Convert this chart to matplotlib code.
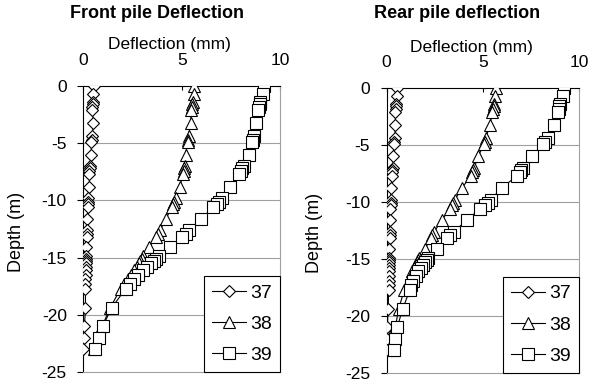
import matplotlib
matplotlib.use("Agg")
import matplotlib.pyplot as plt

plt.rcParams['font.family'] = ['Liberation Sans', 'DejaVu Sans']

depth = [0, -0.7, -1.4, -1.6, -1.8, -2.1, -3.2, -4.4, -4.7, -4.9, -6.0, -7.0, -7.2,
         -7.4, -7.7, -8.8, -9.8, -10.1, -10.3, -10.6, -11.6, -12.6, -12.9, -13.2,
         -14.1, -14.9, -15.1, -15.3, -15.5, -15.8, -16.1, -16.5, -16.9, -17.3,
         -17.7, -19.4, -21.0, -22.0, -23.0]

front_37 = [0.55, 0.5, 0.5, 0.5, 0.45, 0.45, 0.5, 0.45, 0.45, 0.4, 0.4, 0.35, 0.35,
            0.3, 0.3, 0.3, 0.25, 0.25, 0.25, 0.25, 0.2, 0.2, 0.2, 0.2, 0.15, 0.15,
            0.15, 0.15, 0.15, 0.15, 0.15, 0.15, 0.1, 0.1, 0.1, 0.1, 0.05, 0.05, 0.0]
front_38 = [5.62, 5.6, 5.55, 5.52, 5.5, 5.48, 5.45, 5.35, 5.32, 5.3, 5.2, 5.15, 5.12,
            5.1, 5.07, 4.9, 4.7, 4.62, 4.57, 4.5, 4.2, 3.9, 3.8, 3.7, 3.35, 3.05,
            2.98, 2.9, 2.82, 2.7, 2.58, 2.42, 2.25, 2.08, 1.9, 1.35, 0.95, 0.75, 0.55]
front_39 = [9.19, 9.12, 9.0, 8.97, 8.93, 8.88, 8.8, 8.7, 8.65, 8.6, 8.4, 8.15, 8.08,
            8.0, 7.9, 7.45, 7.05, 6.9, 6.8, 6.6, 6.0, 5.35, 5.2, 5.0, 4.4, 3.85,
            3.7, 3.57, 3.45, 3.25, 3.05, 2.8, 2.55, 2.35, 2.15, 1.43, 0.98, 0.79, 0.59]

rear_37 = [0.55, 0.52, 0.5, 0.5, 0.48, 0.45, 0.45, 0.42, 0.4, 0.4, 0.35, 0.32, 0.3,
           0.3, 0.28, 0.25, 0.2, 0.2, 0.2, 0.18, 0.18, 0.15, 0.15, 0.15, 0.12, 0.12,
           0.12, 0.12, 0.12, 0.12, 0.12, 0.1, 0.1, 0.1, 0.1, 0.08, 0.03, 0.02, 0.0]
rear_38 = [5.68, 5.64, 5.58, 5.56, 5.54, 5.5, 5.37, 5.15, 5.1, 5.06, 4.76, 4.55, 4.5,
           4.45, 4.38, 3.9, 3.55, 3.45, 3.4, 3.3, 2.86, 2.48, 2.38, 2.3, 2.0, 1.7,
           1.62, 1.56, 1.5, 1.42, 1.34, 1.25, 1.15, 1.05, 0.92, 0.62, 0.45, 0.38, 0.32]
rear_39 = [9.22, 9.15, 9.02, 8.98, 8.94, 8.9, 8.7, 8.4, 8.25, 8.14, 7.58, 7.1, 7.0,
           6.93, 6.76, 5.98, 5.4, 5.28, 5.1, 4.85, 4.16, 3.5, 3.3, 3.12, 2.6, 2.16,
           2.08, 2.0, 1.9, 1.78, 1.64, 1.5, 1.38, 1.28, 1.21, 0.83, 0.55, 0.43, 0.38]

series_labels = ["37", "38", "39"]
markers = ["D", "^", "s"]
msizes = [6.3, 8, 8]
titles = ["Front pile Deflection", "Rear pile deflection"]
xlabel = "Deflection (mm)"
ylabel = "Depth (m)"
xticks = [0, 5, 10]
yticks = [0, -5, -10, -15, -20, -25]

W, H = 590, 382
fig = plt.figure(figsize=(W / 100, H / 100), dpi=100)
ax_rects = [[0.1415, 0.026, 0.333, 0.749], [0.6554, 0.0243, 0.326, 0.745]]
title_x = [157.5 / W, 456.7 / W]
xlabel_x = [0.4377, 0.442]
ylabel_x = [-0.298, -0.331]
data = [[front_37, front_38, front_39], [rear_37, rear_38, rear_39]]

for i in range(2):
    ax = fig.add_axes(ax_rects[i])
    for j in range(3):
        ax.plot(data[i][j], depth, color='black', lw=0.8, marker=markers[j],
                ms=msizes[j], mfc='white', mec='black', mew=0.8,
                label=series_labels[j], zorder=3 + j)
    ax.set_xlim(0, 10)
    ax.set_ylim(-25, 0)
    ax.set_xticks(xticks)
    ax.set_yticks(yticks)
    ax.set_yticklabels([str(t) for t in yticks])
    ax.xaxis.tick_top()
    ax.xaxis.set_label_position('top')
    ax.tick_params(axis='x', direction='in', length=3, width=0.8, labelsize=12.5, pad=13)
    ax.tick_params(axis='y', direction='out', length=4, width=0.8, labelsize=12.5, pad=8)
    ax.set_xlabel(xlabel, fontsize=12.5)
    ax.xaxis.set_label_coords(xlabel_x[i], 1.128)
    ax.set_ylabel(ylabel, fontsize=13)
    ax.yaxis.set_label_coords(ylabel_x[i], 0.49)
    for y in [-5, -10, -15, -20]:
        ax.axhline(y, color='#a0a0a0', lw=0.8, zorder=1)
    ax.spines['left'].set_color('black')
    ax.spines['top'].set_color('black')
    ax.spines['right'].set_color('#a0a0a0')
    ax.spines['bottom'].set_color('#a0a0a0')
    for s in ax.spines.values():
        s.set_linewidth(0.8)
    fig.text(title_x[i], 1 - 14 / H, titles[i], fontsize=13, fontweight='bold',
             ha='center', va='center')
    leg = ax.legend(loc='lower right', bbox_to_anchor=(1.0, 0.0), fontsize=14,
                    frameon=True, fancybox=False, edgecolor='black', framealpha=1,
                    borderpad=0.4, labelspacing=0.7, handlelength=1.75,
                    handletextpad=0.25, borderaxespad=0)
    leg.get_frame().set_linewidth(0.8)
    leg.set_zorder(10)

fig.savefig("out.png", dpi=100)
